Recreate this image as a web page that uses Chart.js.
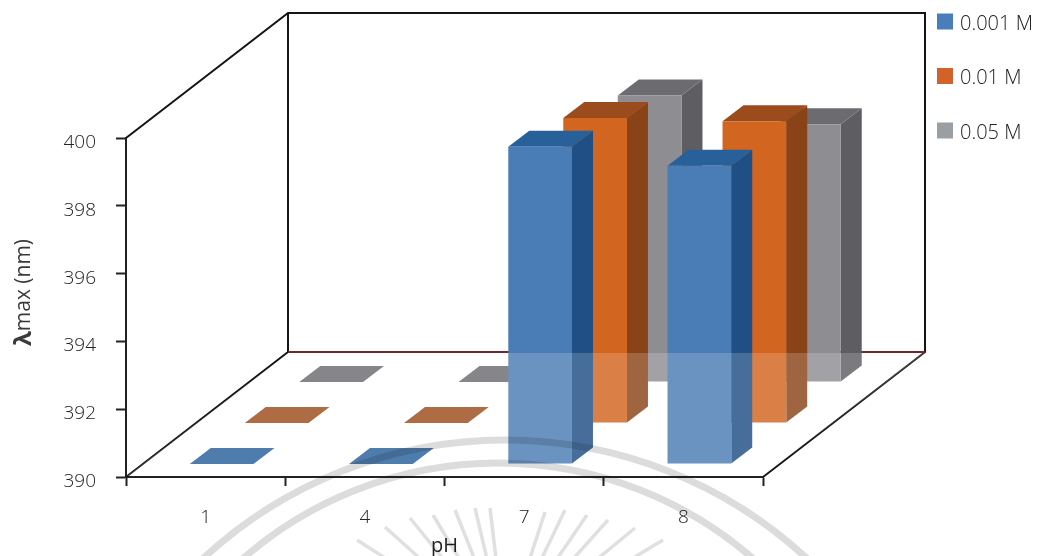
<!DOCTYPE html>
<html lang="en">
<head>
    <meta charset="UTF-8">
    <title>Absorption maximum vs pH</title>
    <script src="https://cdn.jsdelivr.net/npm/chart.js"></script>
    <style>
        body {
            margin: 0;
            background-color: #ffffff;
        }

        canvas {
            display: block;
        }
    </style>
</head>
<body>

    <canvas id="lambdaChart" width="1038" height="556"></canvas>

    <script>
        // pH values on the x-axis
        const phLabels = ['1', '4', '7', '8'];

        // Absorption maximum (nm) for each concentration
        const seriesNames = ['0.001 M', '0.01 M', '0.05 M'];
        const values001 = [390, 390, 399.36, 398.8];
        const values01 = [390, 390, 399.0, 398.9];
        const values05 = [390, 390, 398.45, 397.6];

        const yMin = 390;
        const yMax = 400;
        const yStep = 2;

        // Colours per series: front, side and top faces of a box
        const frontColors = ['#4a7cb5', '#d2651f', '#8e8d92'];
        const sideColors = ['#1f4f85', '#8a4316', '#5e5d62'];
        const topColors = ['#28609a', '#9c4c1c', '#6c6b70'];
        const legendColors = ['#4a7ebb', '#d2622a', '#9a9fa3'];

        // How far each series row sits behind the front of the floor
        const rowShiftX = [16, 71, 125.5];
        const rowShiftY = [13, 54, 95];

        // Box depth and depth of the whole plot
        const boxDepthX = 21;
        const boxDepthY = 16;
        const wallDepthX = 162;
        const wallDepthY = 125;

        const textColor = '#222222';
        const fontName = '"Open Sans", sans-serif';

        // Draws the side and top of each box; the bar itself becomes the front face
        const boxFaces = {
            id: 'boxFaces',
            beforeDatasetDraw(chart, args) {
                const ctx = chart.ctx;
                const i = args.index;
                ctx.save();
                ctx.translate(rowShiftX[i], -rowShiftY[i]);
                args.meta.data.forEach(bar => {
                    const left = bar.x - bar.width / 2;
                    const right = bar.x + bar.width / 2;

                    ctx.fillStyle = sideColors[i];
                    ctx.beginPath();
                    ctx.moveTo(right, bar.y);
                    ctx.lineTo(right + boxDepthX, bar.y - boxDepthY);
                    ctx.lineTo(right + boxDepthX, bar.base - boxDepthY);
                    ctx.lineTo(right, bar.base);
                    ctx.closePath();
                    ctx.fill();

                    ctx.fillStyle = topColors[i];
                    ctx.beginPath();
                    ctx.moveTo(left, bar.y);
                    ctx.lineTo(left + boxDepthX, bar.y - boxDepthY);
                    ctx.lineTo(right + boxDepthX, bar.y - boxDepthY);
                    ctx.lineTo(right, bar.y);
                    ctx.closePath();
                    ctx.fill();
                });
            },
            afterDatasetDraw(chart) {
                chart.ctx.restore();
            }
        };

        // Back wall, side wall edges, translucent floor
        const walls = {
            id: 'walls',
            beforeDatasetsDraw(chart) {
                const { ctx, chartArea: a } = chart;
                ctx.save();
                ctx.strokeStyle = '#151515';
                ctx.lineWidth = 2;
                ctx.beginPath();
                ctx.moveTo(a.left, a.top);
                ctx.lineTo(a.left + wallDepthX, a.top - wallDepthY);
                ctx.lineTo(a.right + wallDepthX, a.top - wallDepthY);
                ctx.lineTo(a.right + wallDepthX, a.bottom - wallDepthY);
                ctx.lineTo(a.right, a.bottom);
                ctx.moveTo(a.left, a.bottom);
                ctx.lineTo(a.left + wallDepthX, a.bottom - wallDepthY);
                ctx.lineTo(a.left + wallDepthX, a.top - wallDepthY);
                ctx.stroke();

                // Floor's back edge, hidden behind the boxes
                ctx.strokeStyle = '#6e2a2e';
                ctx.beginPath();
                ctx.moveTo(a.left + wallDepthX, a.bottom - wallDepthY);
                ctx.lineTo(a.right + wallDepthX, a.bottom - wallDepthY);
                ctx.stroke();
                ctx.restore();
            },
            afterDatasetsDraw(chart) {
                const { ctx, chartArea: a } = chart;
                ctx.save();
                ctx.fillStyle = 'rgba(255, 255, 255, 0.18)';
                ctx.beginPath();
                ctx.moveTo(a.left + 1, a.bottom - 1);
                ctx.lineTo(a.left + wallDepthX, a.bottom - wallDepthY + 1);
                ctx.lineTo(a.right + wallDepthX, a.bottom - wallDepthY + 1);
                ctx.lineTo(a.right, a.bottom - 1);
                ctx.closePath();
                ctx.fill();
                ctx.restore();
            }
        };

        // Legend column and the y-axis title, whose lambda is heavier than the rest
        const sideText = {
            id: 'sideText',
            afterDraw(chart) {
                const ctx = chart.ctx;
                ctx.save();
                ctx.textBaseline = 'middle';
                ctx.font = '300 20px ' + fontName;
                seriesNames.forEach((name, i) => {
                    const y = 21.5 + i * 54.5;
                    ctx.fillStyle = legendColors[i];
                    ctx.fillRect(937, y - 8, 16, 16);
                    ctx.fillStyle = textColor;
                    ctx.fillText(name, 960, y + 2.5);
                });
                ctx.restore();

                ctx.save();
                ctx.translate(24, 346);
                ctx.rotate(-Math.PI / 2);
                ctx.textBaseline = 'middle';
                ctx.fillStyle = '#3a3a3a';
                ctx.font = 'bold 24px ' + fontName;
                ctx.fillText('λ', 0, 0);
                const lambdaWidth = ctx.measureText('λ').width;
                ctx.font = '21px ' + fontName;
                ctx.fillText('max (nm)', lambdaWidth, 0);
                ctx.restore();
            }
        };

        // Pale seal printed across the lower part of the page
        const seal = {
            id: 'seal',
            afterDraw(chart) {
                const ctx = chart.ctx;
                ctx.save();
                ctx.globalCompositeOperation = 'multiply';
                ctx.strokeStyle = '#dcdcdc';
                ctx.lineWidth = 7;
                ctx.beginPath();
                ctx.arc(505, 884, 444, 0, Math.PI * 2);
                ctx.stroke();
                ctx.beginPath();
                ctx.arc(498, 851, 388, 0, Math.PI * 2);
                ctx.stroke();

                ctx.lineWidth = 3.5;
                ctx.strokeStyle = '#e0e0e0';
                const tips = [[357, 540], [385, 527], [410, 518], [433, 515], [455, 510], [475, 508], [490, 508],
                    [545, 512], [565, 510], [587, 515], [608, 520], [635, 528], [663, 540]];
                tips.forEach(([x, y]) => {
                    const dx = 505 - x;
                    const dy = 635 - y;
                    const len = Math.hypot(dx, dy);
                    ctx.beginPath();
                    ctx.moveTo(x, y);
                    ctx.lineTo(x + dx / len * 70, y + dy / len * 70);
                    ctx.stroke();
                });
                ctx.restore();
            }
        };

        function makeDataset(name, values, color) {
            return {
                label: name,
                data: values,
                base: yMin,
                backgroundColor: color,
                borderWidth: 0,
                grouped: false,
                barPercentage: 0.4,
                categoryPercentage: 1,
                clip: false
            };
        }

        new Chart(document.getElementById('lambdaChart'), {
            type: 'bar',
            data: {
                labels: phLabels,
                datasets: [
                    makeDataset(seriesNames[0], values001, frontColors[0]),
                    makeDataset(seriesNames[1], values01, frontColors[1]),
                    makeDataset(seriesNames[2], values05, frontColors[2])
                ]
            },
            plugins: [walls, boxFaces, sideText, seal],
            options: {
                responsive: false,
                animation: false,
                layout: {
                    padding: { top: 138, right: 275, left: 0, bottom: 0 }
                },
                plugins: {
                    legend: { display: false },
                    tooltip: { enabled: false }
                },
                scales: {
                    x: {
                        afterFit(scale) { scale.height = 79; },
                        border: { display: true, color: '#222222', width: 2 },
                        grid: { drawOnChartArea: false, color: '#222222', tickLength: 9, tickWidth: 2 },
                        ticks: { color: textColor, font: { family: fontName, size: 19, weight: 300 }, padding: 20, maxRotation: 0 },
                        title: { display: true, text: 'pH', color: textColor, font: { family: fontName, size: 20, lineHeight: 1 }, padding: { top: 0, bottom: 0 } }
                    },
                    y: {
                        min: yMin,
                        max: yMax,
                        afterFit(scale) { scale.width = 126; },
                        border: { display: true, color: '#222222', width: 2 },
                        grid: { drawOnChartArea: false, color: '#222222', tickLength: 10, tickWidth: 2 },
                        ticks: {
                            stepSize: yStep,
                            color: textColor,
                            // blank first line with a short line height nudges the number just below its tick
                            callback: value => ['', value],
                            font: { family: fontName, size: 19, weight: 300, lineHeight: '9px' },
                            padding: 20
                        }
                    }
                }
            }
        });
    </script>

</body>
</html>
